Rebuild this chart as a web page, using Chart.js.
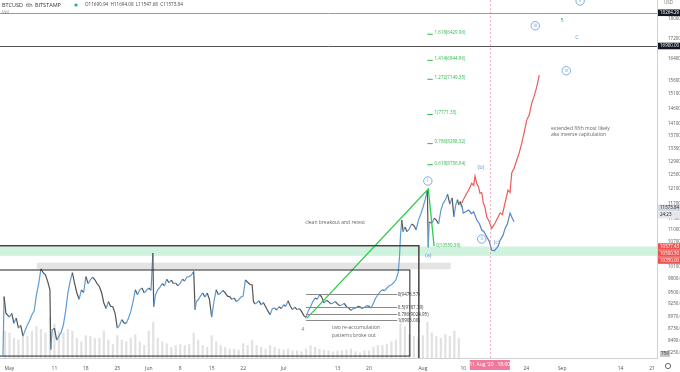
<!DOCTYPE html>
<html>
<head>
<meta charset="utf-8">
<script src="https://cdn.jsdelivr.net/npm/chart.js@4/dist/chart.umd.min.js"></script>
<style>
  html, body { margin: 0; padding: 0; background: #fff; }
</style>
</head>
<body>
<canvas id="btcChart" width="680" height="372"></canvas>
<script>
// dias contados desde el 1 de mayo 2020 (eje x lineal)
const priceDays = [
  -1.45, -1.2, -0.8, 0, 0.5, 1, 1.5, 2, 2.5, 3, 3.5, 4, 4.5, 5, 5.5, 6, 6.5, 7, 7.5, 8, 8.5, 9, 9.2, 9.5,
  10, 10.5, 11, 11.5, 12, 12.5, 13, 13.5, 14, 14.5, 15, 15.5, 16, 16.5, 17, 17.5, 18, 18.5, 19, 19.5,
  20, 20.5, 21, 21.5, 22, 22.5, 23, 23.5, 24, 24.5, 25, 25.5, 26, 26.5, 27, 27.5, 28, 28.5, 29, 29.5,
  30, 30.5, 31, 31.5, 31.9, 32.1, 32.5, 33, 33.5, 34, 34.5, 35, 35.5, 36, 36.5, 37, 37.5, 38, 38.5, 39, 39.5,
  40, 40.5, 41, 41.3, 41.6, 42, 42.5, 43, 43.5, 44, 44.5, 45, 45.5, 46, 46.5, 47, 47.5, 48, 48.5, 49, 49.5,
  50, 50.5, 51, 51.5, 52, 52.5, 53, 53.5, 54, 54.3, 54.6, 55, 55.5, 56, 56.5, 57, 57.5, 58, 58.5, 59, 59.5,
  60, 60.5, 61, 61.5, 62, 62.5, 63, 63.5, 64, 64.5, 65, 65.5, 66, 66.5, 67, 67.5, 68, 68.5, 69, 69.5,
  70, 70.5, 71, 71.5, 72, 72.5, 73, 73.5, 74, 74.5, 75, 75.5, 76, 76.5, 77, 77.5, 78, 78.5, 79, 79.5,
  80, 80.5, 81, 81.5, 82, 82.5, 83, 83.5, 84, 84.5, 85, 85.5, 86, 86.5, 86.8, 87, 87.3, 87.6, 88, 88.5, 89, 89.5,
  90, 90.5, 91, 91.5, 92, 92.5, 93, 93.2, 93.4, 94, 94.5, 95, 95.5, 96, 96.5, 97, 97.5, 98, 98.5, 98.9, 99.3, 99.7,
  100, 100.3, 100.65
];
const priceValues = [
  8200, 9410, 9050, 8970, 9050, 8840, 8950, 8740, 8800, 8580, 8700, 8813, 8900, 9020, 9100, 9449, 9700, 10040, 9950, 9900, 9750, 9560, 8315, 8700,
  8740, 8500, 8580, 8650, 8810, 9100, 9490, 9750, 9950, 9700, 9490, 9350, 9560, 9500, 9860, 9700, 9786, 9850, 9786, 9700,
  9635, 9500, 9270, 9150, 9300, 9200, 9190, 9050, 8740, 8800, 8917, 8850, 8840, 8950, 9090, 9300, 9560, 9450, 9560, 9600,
  9490, 9550, 9600, 9550, 10420, 9190, 9450, 9560, 9620, 9700, 9650, 9800, 9720, 9780, 9700, 9710, 9650, 9710, 9800, 9760, 9850,
  9860, 9900, 9980, 9126, 9300, 9340, 9420, 9490, 9400, 9490, 9350, 8970, 9300, 9560, 9450, 9490, 9550, 9490, 9420, 9410, 9350,
  9380, 9300, 9340, 9400, 9420, 9786, 9730, 9680, 9673, 9300, 9250, 9270, 9320, 9231, 9280, 9190, 9100, 9020, 9150, 9160, 9120,
  9190, 9150, 9230, 9200, 9320, 9200, 9126, 9180, 9126, 9150, 9090, 9000, 8960, 9100, 9190, 9300, 9380, 9350, 9450, 9400,
  9270, 9330, 9300, 9250, 9270, 9300, 9250, 9210, 9231, 9260, 9190, 9160, 9110, 9150, 9160, 9200, 9190, 9150, 9180, 9210,
  9200, 9160, 9270, 9380, 9450, 9520, 9560, 9540, 9600, 9650, 9673, 9720, 9786, 9950, 10330, 10820, 11250, 10950, 11070, 10950, 11030, 11150,
  11110, 11000, 11250, 11400, 11580, 11800, 12050, 10560, 11200, 11170, 11300, 11250, 11150, 11510, 11700, 11800, 11950, 11680, 11850, 11340, 11650, 11800,
  11655, 11750, 11600
];

// volumen diario (miles), empieza el 30 abril
const volStartDay = -1;
const volumes = [
  30, 28, 22, 20, 25, 24, 30, 35, 32, 28, 45,
  38, 30, 28, 32, 30, 22, 18, 25, 24, 22,
  22, 30, 20, 15, 25, 20, 18, 22, 26, 18,
  14, 30, 40, 22, 18, 16, 12, 14, 15, 14,
  15, 28, 20, 14, 12, 25, 18, 14, 12, 10,
  10, 9, 16, 14, 20, 14, 12, 10, 14, 12,
  10, 9, 10, 8, 8, 7, 10, 14, 12, 10,
  9, 8, 7, 8, 8, 9, 10, 7, 6, 8,
  8, 12, 14, 14, 15, 18, 20, 38, 35, 26,
  24, 22, 25, 40, 28, 24, 22, 26, 24, 30, 22
];

// proyecciones dibujadas a mano
const redDays = [100.65, 101.2, 101.76, 102.3, 102.87, 103.3, 103.6, 103.98, 104.4, 104.72, 105.1, 105.45, 105.8, 106.21, 106.8, 107.32,
  108.06, 108.6, 109.17, 109.7, 110.28, 110.95, 111.4, 111.77, 112.3, 112.89, 113.4, 114.0, 114.6, 115.11, 115.7, 116.22, 116.8, 117.34, 117.91];
const redValues = [11710, 11850, 11978, 12100, 12260, 12200, 12471, 12260, 12150, 11978, 12000, 11710, 11600, 11341, 11200, 11036,
  11174, 11300, 11439, 11400, 11710, 12071, 12000, 12560, 12700, 12947, 13150, 13471, 13850, 14213, 14400, 14790, 15050, 15363, 15790];
const blueDays = [100.65, 101.0, 101.6, 102.2, 102.8, 103.3, 104.0, 104.6, 105.1, 105.6, 106.2, 106.8, 107.3, 107.9, 108.4, 108.8,
  109.2, 109.8, 110.3, 110.8, 111.4, 111.9, 112.3];
const blueValues = [11655, 11439, 11480, 11519, 11420, 11474, 11253, 11150, 10992, 10950, 10822, 10700, 10490, 10470, 10540, 10600,
  10738, 10850, 11036, 11150, 11439, 11300, 11208];

// linea verde de la onda
const waveDays = [66.15, 93.2, 94.5];
const waveValues = [8943, 12099, 10589];

// fibo de retroceso
const fibLevels = [9476.57, 9187.79, 9024.95, 8905.00];
const fibLabels = ['0(9476.57)', '0.5(9187.79)', '0.786(9024.95)', '1(8905.00)'];

// ticks
const xTickDays = [0, 10, 17, 24, 31, 38, 45, 52, 61, 73, 80, 92, 101, 115, 123, 136, 143];
const xTickLabels = ['May', '11', '18', '25', 'Jun', '8', '15', '22', 'Jul', '13', '20', 'Aug', '10', '24', 'Sep', '14', '21'];
const yTicks = [18000, 17200, 16400, 15600, 15100, 14600, 14100, 13700, 13300, 12900, 12500, 12100, 11700, 11300, 11000,
  10700, 10100, 9800, 9500, 9250, 8970, 8730, 8490, 8250];

const FONT = "'Open Sans', 'DejaVu Sans', sans-serif";
Chart.defaults.font.family = FONT;

// anotaciones de la imagen
const notas = {
  id: 'notas',
  beforeDatasetsDraw(chart) {
    const { ctx, chartArea: a, scales: { x, y } } = chart;
    const px = d => x.getPixelForValue(d), py = v => y.getPixelForValue(v);
    ctx.save();
    ctx.beginPath(); ctx.rect(a.left, a.top, a.width, a.height); ctx.clip();
    // zona verde
    ctx.fillStyle = 'rgba(160,232,190,0.5)';
    ctx.fillRect(a.left, py(10577.43), a.width, py(10350) - py(10577.43));
    // zona gris
    ctx.fillStyle = 'rgba(205,205,205,0.55)';
    ctx.fillRect(px(6.1), py(10185), px(98.2) - px(6.1), py(10030) - py(10185));
    ctx.restore();
  },
  afterDatasetsDraw(chart) {
    const { ctx, chartArea: a, scales: { x, y } } = chart;
    const px = d => x.getPixelForValue(d), py = v => y.getPixelForValue(v);
    ctx.save();
    ctx.beginPath(); ctx.rect(a.left, a.top, a.width, a.height); ctx.clip();

    // lineas horizontales de arriba
    ctx.lineWidth = 1;
    ctx.strokeStyle = '#9a9a9a';
    ctx.beginPath(); ctx.moveTo(a.left, Math.round(py(18264.29)) + 0.5); ctx.lineTo(a.right, Math.round(py(18264.29)) + 0.5); ctx.stroke();
    ctx.strokeStyle = '#555';
    ctx.beginPath(); ctx.moveTo(a.left, Math.round(py(16900)) + 0.5); ctx.lineTo(a.right, Math.round(py(16900)) + 0.5); ctx.stroke();

    // rectangulos de acumulacion
    ctx.strokeStyle = '#444';
    ctx.lineWidth = 1.5;
    ctx.strokeRect(px(-5), py(10597), px(91.1) - px(-5), py(8100) - py(10597));
    ctx.strokeStyle = '#222';
    ctx.lineWidth = 1;
    ctx.strokeRect(px(-5), py(10013), px(89.1) - px(-5), py(8189) - py(10013));

    // fibo retroceso
    ctx.strokeStyle = '#8a8a8a';
    ctx.font = '4.5px ' + FONT;
    ctx.textBaseline = 'middle';
    fibLevels.forEach((lv, i) => {
      const yy = Math.round(py(lv)) + 0.5;
      ctx.beginPath(); ctx.moveTo(px(66), yy); ctx.lineTo(px(86.3), yy); ctx.stroke();
      ctx.fillStyle = '#333';
      ctx.fillText(fibLabels[i], px(86.4), yy);
    });

    // extensiones fibo (texto verde)
    const ext = [
      { v: 17430, t: '1.618(6429.96)' }, { v: 16400, t: '1.414(6844.96)' }, { v: 15690, t: '1.272(7149.35)' },
      { v: 14450, t: '1(7771.33)' }, { v: 13500, t: '0.786(8298.32)' }, { v: 12850, t: '0.618(8736.94)' }
    ];
    ctx.fillStyle = '#2fb84a';
    ctx.strokeStyle = '#2fb84a';
    ext.forEach(e => {
      const yy = py(e.v);
      ctx.beginPath(); ctx.moveTo(px(93.0), yy + 1.5); ctx.lineTo(px(94.2), yy + 1.5); ctx.stroke();
      ctx.fillText(e.t, px(94.6), yy);
    });
    ctx.fillText('0(10559.39)', px(94.9), py(10600));

    // textos
    ctx.fillStyle = '#666';
    ctx.font = '5px ' + FONT;
    ctx.fillText('clean breakout and retest', px(65.8), py(11180));
    ctx.fillText('two re-accumulation', px(71.8), py(8749));
    ctx.fillText('patterns broke out', px(71.8), py(8600));
    ctx.fillText('extended fifth most likely', px(120.5), py(13940));
    ctx.fillText('aka inverse capitulation', px(120.5), py(13740));

    // conteo de ondas
    ctx.textAlign = 'center';
    const circ = [
      { d: 93.1, v: 12327, t: 'i' }, { d: 105.1, v: 10764, t: 'ii' }, { d: 117, v: 17720, t: 'iii' },
      { d: 123.9, v: 15952, t: 'iv' }, { d: 127, v: 18772, t: 'v' }
    ];
    ctx.strokeStyle = '#5a9ad8';
    ctx.fillStyle = '#5a9ad8';
    ctx.lineWidth = 0.8;
    circ.forEach(c => {
      ctx.beginPath(); ctx.arc(px(c.d), py(c.v), 4.2, 0, Math.PI * 2); ctx.stroke();
      ctx.font = '4.5px ' + FONT;
      ctx.fillText(c.t, px(c.d), py(c.v));
    });
    ctx.font = '5.5px ' + FONT;
    ctx.fillText('(b)', px(104.9), py(12728));
    ctx.fillText('(a)', px(93.2), py(10369));
    ctx.fillText('(c)', px(108.4), py(10672));
    ctx.fillText('C', px(126.3), py(17240));
    ctx.fillStyle = '#2fb84a';
    ctx.fillText('5', px(123), py(17960));
    ctx.fillText('4', px(65.3), py(8710));

    // cruz del cursor
    ctx.strokeStyle = 'rgba(236,110,140,0.7)';
    ctx.lineWidth = 0.8;
    ctx.setLineDash([2, 2]);
    const cx = Math.round(px(106.9)) + 0.5;
    ctx.beginPath(); ctx.moveTo(cx, a.top); ctx.lineTo(cx, a.bottom); ctx.stroke();
    ctx.setLineDash([]);
    ctx.restore();
  },
  afterDraw(chart) {
    const { ctx, chartArea: a, scales: { x, y } } = chart;
    const py = v => y.getPixelForValue(v);
    ctx.save();
    ctx.textBaseline = 'middle';
    ctx.textAlign = 'left';

    // etiquetas del eje de precio
    const box = (yy, t, bg, fg) => {
      ctx.fillStyle = bg;
      ctx.fillRect(a.right + 1, yy - 3.3, 22, 6.6);
      ctx.fillStyle = fg;
      ctx.font = '4.5px ' + FONT;
      ctx.fillText(t, a.right + 3, yy);
    };
    box(py(18264.29), '18264.29', '#131722', '#fff');
    box(py(16900), '16900.00', '#131722', '#fff');
    box(py(11573.84), '11573.84', '#d5d8de', '#131722');
    box(py(11573.84) + 7, '24:23', '#e4e6ea', '#131722');
    const r0 = py(10577.43);
    box(r0, '10577.43', '#ef5350', '#fff');
    box(r0 + 7, '10500.50', '#ef5350', '#fff');
    box(r0 + 14, '10350.00', '#ef5350', '#fff');
    ctx.fillStyle = '#c8c8c8';
    ctx.fillRect(a.right + 3, a.bottom - 7, 10, 6);
    ctx.fillStyle = '#333';
    ctx.fillText('758', a.right + 4, a.bottom - 4);
    ctx.fillStyle = '#777';
    ctx.fillText('USD', a.right + 7, 3);

    // etiqueta de fecha del cursor
    const cx = x.getPixelForValue(106.9);
    ctx.fillStyle = '#f07a9b';
    ctx.fillRect(cx - 20, a.bottom + 2, 40, 10);
    ctx.fillStyle = '#fff';
    ctx.textAlign = 'center';
    ctx.font = '5px ' + FONT;
    ctx.fillText("11 Aug '20   18:00", cx, a.bottom + 7);

    // engranaje
    ctx.strokeStyle = '#666';
    ctx.lineWidth = 1;
    ctx.beginPath(); ctx.arc(668, 366, 2.6, 0, Math.PI * 2); ctx.stroke();

    // cabecera
    ctx.textAlign = 'left';
    ctx.fillStyle = '#333';
    ctx.font = '5.5px ' + FONT;
    ctx.fillText('BTCUSD', 2, 5);
    ctx.fillText('6h', 26, 5);
    ctx.fillText('BITSTAMP', 35, 5);
    ctx.fillStyle = '#26a69a';
    ctx.beginPath(); ctx.arc(76, 5, 1.6, 0, Math.PI * 2); ctx.fill();
    ctx.fillStyle = '#444';
    ctx.font = '4.6px ' + FONT;
    ctx.fillText('O11690.94  H11694.08  L11547.68  C11573.84', 85, 5);
    ctx.fillStyle = '#777';
    ctx.fillText('Vol', 2, 13);
    ctx.restore();
  }
};

const ctx = document.getElementById('btcChart');
new Chart(ctx, {
  type: 'line',
  data: {
    datasets: [
      {
        label: 'Vol', type: 'bar', yAxisID: 'yv', order: 5,
        data: volumes.map((v, i) => ({ x: volStartDay + i, y: v })),
        backgroundColor: 'rgba(205,205,205,0.6)', barThickness: 1.5
      },
      {
        label: 'BTCUSD', order: 3,
        data: priceDays.map((d, i) => ({ x: d, y: priceValues[i] })),
        borderWidth: 1.2, pointRadius: 0, tension: 0,
        segment: { borderColor: c => c.p1.parsed.y >= c.p0.parsed.y ? '#5f9bd2' : '#555' }
      },
      {
        label: 'onda', order: 2,
        data: waveDays.map((d, i) => ({ x: d, y: waveValues[i] })),
        borderColor: '#2ecc48', borderWidth: 1.3, pointRadius: 0
      },
      {
        label: 'rojo', order: 1,
        data: redDays.map((d, i) => ({ x: d, y: redValues[i] })),
        borderColor: '#ef5a5a', borderWidth: 1.2, pointRadius: 0
      },
      {
        label: 'azul', order: 1,
        data: blueDays.map((d, i) => ({ x: d, y: blueValues[i] })),
        borderColor: '#5a82c8', borderWidth: 1.2, pointRadius: 0
      }
    ]
  },
  options: {
    responsive: false,
    animation: false,
    devicePixelRatio: 1,
    layout: { padding: 0 },
    plugins: { legend: { display: false }, tooltip: { enabled: false } },
    scales: {
      x: {
        type: 'linear', min: -2.11, max: 144.1, offset: false,
        grid: { display: false },
        border: { color: '#d0d0d0' },
        ticks: {
          font: { size: 5 }, color: '#555', autoSkip: false, maxRotation: 0, padding: 0,
          callback: v => { const i = xTickDays.indexOf(v); return i >= 0 ? xTickLabels[i] : ''; }
        },
        afterBuildTicks: s => { s.ticks = xTickDays.map(v => ({ value: v })); },
        afterFit: s => { s.height = 14; s.paddingLeft = 0; s.paddingRight = 0; }
      },
      y: {
        type: 'logarithmic', position: 'right', min: 8152, max: 18817,
        grid: { display: false },
        border: { color: '#d0d0d0' },
        ticks: { font: { size: 4.5 }, color: '#555', autoSkip: false, padding: 3, callback: v => Number(v).toFixed(2) },
        afterBuildTicks: s => { s.ticks = yTicks.map(v => ({ value: v })); },
        afterFit: s => { s.width = 23; s.paddingTop = 0; s.paddingBottom = 0; }
      },
      yv: { display: false, min: 0, max: 400 }
    }
  },
  plugins: [notas]
});
</script>
</body>
</html>
